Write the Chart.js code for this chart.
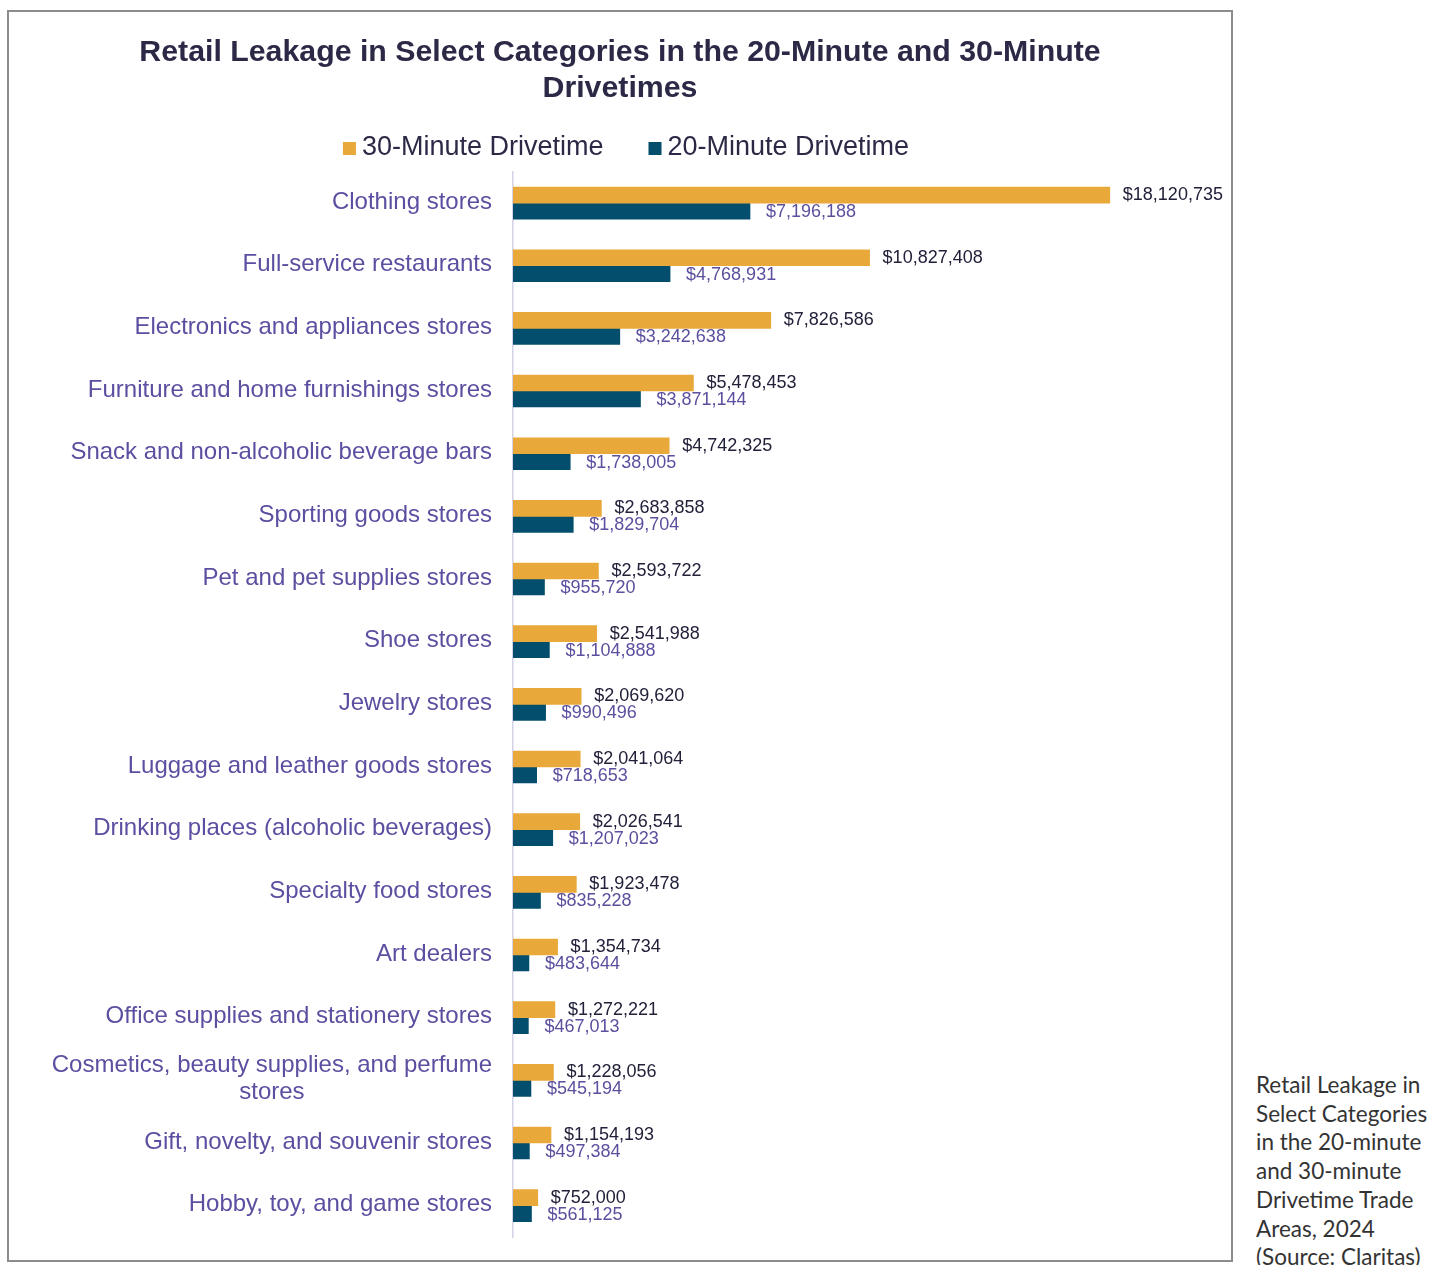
<!DOCTYPE html>
<html>
<head>
<meta charset="utf-8">
<script src="https://cdn.jsdelivr.net/npm/chart.js@4/dist/chart.umd.min.js"></script>
<style>
  html, body { margin: 0; padding: 0; background: #fff; overflow: hidden; }
  body { width: 1440px; height: 1265px; position: relative; }
  #frame {
    position: absolute; left: 7px; top: 10px;
    width: 1226px; height: 1252px;
    border: 2px solid #8c8c8c; box-sizing: border-box;
  }
  #wrap { position: relative; width: 1222px; height: 1248px; }
  #caption {
    position: absolute; left: 1256px; top: 1071px; width: 184px;
    font-family: Lato, "Open Sans", sans-serif; font-size: 22.5px;
    line-height: 28.7px; color: #333; white-space: nowrap;
  }
</style>
</head>
<body>
<div id="frame"><div id="wrap"><canvas id="leakage"></canvas></div></div>
<div id="caption">Retail Leakage in<br>Select Categories<br>in the 20-minute<br>and 30-minute<br>Drivetime Trade<br>Areas, 2024<br>(Source: Claritas)</div>
<script>
var categories = [
  'Clothing stores',
  'Full-service restaurants',
  'Electronics and appliances stores',
  'Furniture and home furnishings stores',
  'Snack and non-alcoholic beverage bars',
  'Sporting goods stores',
  'Pet and pet supplies stores',
  'Shoe stores',
  'Jewelry stores',
  'Luggage and leather goods stores',
  'Drinking places (alcoholic beverages)',
  'Specialty food stores',
  'Art dealers',
  'Office supplies and stationery stores',
  ['Cosmetics, beauty supplies, and perfume', 'stores'],
  'Gift, novelty, and souvenir stores',
  'Hobby, toy, and game stores'
];
var drive30 = [18120735, 10827408, 7826586, 5478453, 4742325, 2683858, 2593722, 2541988,
  2069620, 2041064, 2026541, 1923478, 1354734, 1272221, 1228056, 1154193, 752000];
var drive20 = [7196188, 4768931, 3242638, 3871144, 1738005, 1829704, 955720, 1104888,
  990496, 718653, 1207023, 835228, 483644, 467013, 545194, 497384, 561125];

var FONT = '"Liberation Sans", Arial, sans-serif';

// value labels at the end of each bar
var barLabels = {
  id: 'barLabels',
  afterDatasetsDraw: function(chart) {
    var ctx = chart.ctx;
    var colors = ['#22213a', '#5b4f9e'];
    ctx.save();
    ctx.font = '18px ' + FONT;
    ctx.textAlign = 'left';
    ctx.textBaseline = 'middle';
    chart.data.datasets.forEach(function(ds, di) {
      var meta = chart.getDatasetMeta(di);
      ctx.fillStyle = colors[di];
      meta.data.forEach(function(bar, i) {
        ctx.fillText('$' + ds.data[i].toLocaleString('en-US'), bar.x + (di ? 16 : 13), bar.y + (di ? 1 : 0));
      });
    });
    ctx.restore();
  }
};

// category labels, multi-line ones centred on their own block
var catLabels = {
  id: 'catLabels',
  afterDraw: function(chart) {
    var ctx = chart.ctx, ys = chart.scales.y;
    var right = chart.chartArea.left - 21;
    ctx.save();
    ctx.font = '24px ' + FONT;
    ctx.fillStyle = '#5a4fa0';
    ctx.textAlign = 'center';
    ctx.textBaseline = 'middle';
    chart.data.labels.forEach(function(lab, i) {
      var lines = Array.isArray(lab) ? lab : [lab];
      var w = Math.max.apply(null, lines.map(function(l) { return ctx.measureText(l).width; }));
      var cy = ys.getPixelForValue(i) - 1 - (lines.length - 1) * 13.5;
      lines.forEach(function(l, k) {
        ctx.fillText(l, right - w / 2, cy + k * 27);
      });
    });
    ctx.restore();
  }
};

// legend row under the title (tighter box/text gap than the built-in one)
var legendRow = {
  id: 'legendRow',
  afterDraw: function(chart) {
    var ctx = chart.ctx;
    var box = 13, gap = 6, between = 45, cy = 135;
    ctx.save();
    ctx.font = '27px ' + FONT;
    ctx.textBaseline = 'middle';
    ctx.textAlign = 'left';
    var items = chart.data.datasets.map(function(ds) {
      return { text: ds.label, color: ds.backgroundColor, w: ctx.measureText(ds.label).width };
    });
    var total = items.reduce(function(s, it) { return s + box + gap + it.w; }, 0) + between * (items.length - 1);
    var x = 617 - total / 2;
    items.forEach(function(it) {
      ctx.fillStyle = it.color;
      ctx.fillRect(x, cy - 5, box, box);
      ctx.fillStyle = '#2b2946';
      ctx.fillText(it.text, x + box + gap, cy + 1);
      x += box + gap + it.w + between;
    });
    ctx.restore();
  }
};

var config = {
  type: 'bar',
  data: {
    labels: categories,
    datasets: [{
      label: '30-Minute Drivetime',
      data: drive30,
      backgroundColor: '#e9a83a',
      barThickness: 16
    }, {
      label: '20-Minute Drivetime',
      data: drive20,
      backgroundColor: '#034e6c',
      barThickness: 16
    }]
  },
  options: {
    indexAxis: 'y',
    responsive: true,
    maintainAspectRatio: false,
    animation: false,
    layout: { padding: { left: 0, right: 0, top: 0, bottom: 23 } },
    plugins: {
      title: {
        display: true,
        text: ['Retail Leakage in Select Categories in the 20-Minute and 30-Minute', 'Drivetimes'],
        color: '#2b2946',
        font: { family: FONT, size: 30.3, weight: 'bold', lineHeight: 1.2 },
        padding: { top: 22, bottom: 65 }
      },
      legend: { display: false },
      tooltip: { enabled: false }
    },
    scales: {
      x: {
        display: false,
        min: 0,
        max: 21800000
      },
      y: {
        grid: { display: false, drawTicks: false },
        border: { display: true, color: '#d4d2e6', width: 1.5 },
        ticks: { display: false },
        afterFit: function(s) { s.width = 504; }
      }
    }
  },
  plugins: [barLabels, catLabels, legendRow]
};

window.onload = function() {
  var ctx = document.getElementById('leakage').getContext('2d');
  window.leakChart = new Chart(ctx, config);
};
</script>
</body>
</html>
